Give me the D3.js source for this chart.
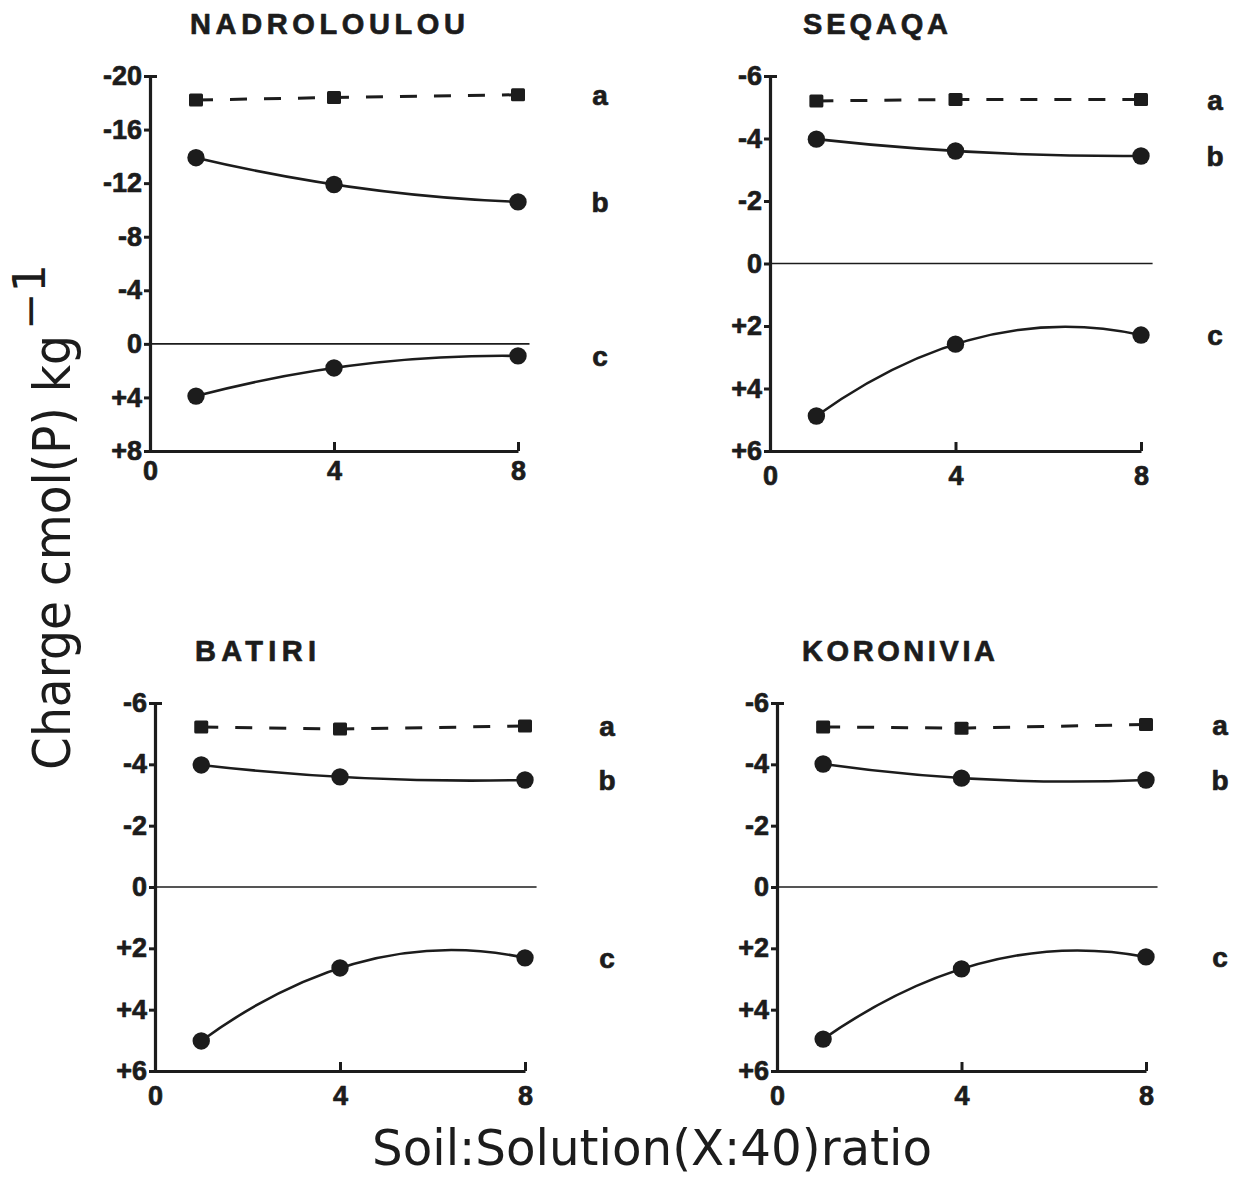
<!DOCTYPE html>
<html>
<head>
<meta charset="utf-8">
<script src="https://cdn.jsdelivr.net/npm/d3@7"></script>
<style>
  html, body { margin: 0; padding: 0; background: #ffffff; }
  svg { display: block; }
</style>
</head>
<body>
<svg id="chart" width="1245" height="1179"></svg>
<script>
// ---- data ----------------------------------------------------------------
const ratioValues = [1, 4, 8];                       // soil : solution (X:40)
const panelTitles = ["NADROLOULOU", "SEQAQA", "BATIRI", "KORONIVIA"];
const seriesNames = ["a", "b", "c"];
const yDomains = [[-20, 8], [-6, 6], [-6, 6], [-6, 6]];
const yTickValues = [
  [-20, -16, -12, -8, -4, 0, 4, 8],
  [-6, -4, -2, 0, 2, 4, 6],
  [-6, -4, -2, 0, 2, 4, 6],
  [-6, -4, -2, 0, 2, 4, 6]
];
const xTickValues = [0, 4, 8];
// charge, cmol(P) kg-1 (negative plotted upward)
const chargeA = [
  [-18.2, -18.4, -18.6],
  [-5.2, -5.25, -5.25],
  [-5.22, -5.15, -5.25],
  [-5.22, -5.18, -5.3]
];
const chargeB = [
  [-13.9, -11.9, -10.6],
  [-3.98, -3.6, -3.44],
  [-3.98, -3.59, -3.49],
  [-4.01, -3.55, -3.49]
];
const chargeC = [
  [3.9, 1.8, 0.9],
  [4.88, 2.58, 2.29],
  [5.02, 2.64, 2.31],
  [4.96, 2.67, 2.28]
];

// ---- layout --------------------------------------------------------------
const layout = [
  { left: 150, right: 518, top: 76, bottom: 451, titleX: 190, titleY: 34, titleW: 275, xPad: 10 },
  { left: 770, right: 1141, top: 76, bottom: 451, titleX: 803, titleY: 34, titleW: 145, xPad: 15 },
  { left: 155, right: 525, top: 703, bottom: 1071, titleX: 195, titleY: 661, titleW: 121, xPad: 15 },
  { left: 777, right: 1146, top: 703, bottom: 1071, titleX: 802, titleY: 661, titleW: 193, xPad: 15 }
];
const ink = "#1c1c1c";
const boldFont = "'Liberation Sans', Arial, Helvetica, sans-serif";
const labelFont = "'DejaVu Sans Condensed', 'DejaVu Sans', sans-serif";

// Smooth curve through three points: the parabola through them, drawn as one
// quadratic Bezier (falls back to straight segments otherwise).
function curveParabola(context) {
  let pts = [];
  return {
    areaStart() {}, areaEnd() {},
    lineStart() { pts = []; },
    point(x, y) { pts.push([+x, +y]); },
    lineEnd() {
      if (pts.length === 3) {
        const [[x0, y0], [x1, y1], [x2, y2]] = pts;
        const d01 = (y1 - y0) / (x1 - x0);
        const d12 = (y2 - y1) / (x2 - x1);
        const a = (d12 - d01) / (x2 - x0);
        const slope0 = d01 + a * (x0 - x1);
        const cx = (x0 + x2) / 2;
        const cy = y0 + slope0 * (cx - x0);
        context.moveTo(x0, y0);
        context.quadraticCurveTo(cx, cy, x2, y2);
      } else {
        pts.forEach((p, i) => i ? context.lineTo(p[0], p[1]) : context.moveTo(p[0], p[1]));
      }
    }
  };
}

const fmtCharge = d => d > 0 ? "+" + d : (d < 0 ? "-" + Math.abs(d) : "0");

// heavy bold text used for ticks, titles and series letters
function heavy(sel, size) {
  sel.attr("font-family", boldFont).attr("font-weight", "bold")
    .attr("font-size", size).attr("fill", ink)
    .attr("stroke", ink).attr("stroke-width", 0.7).attr("stroke-linejoin", "round");
}

const svg = d3.select("#chart");

panelTitles.forEach((title, i) => {
  const L = layout[i];
  const x = d3.scaleLinear().domain([0, 8]).range([L.left, L.right]);
  const y = d3.scaleLinear().domain(yDomains[i]).range([L.top, L.bottom]);
  const g = svg.append("g").attr("class", "panel");

  // panel title
  g.append("text")
    .attr("x", L.titleX).attr("y", L.titleY)
    .attr("textLength", L.titleW).attr("lengthAdjust", "spacing")
    .call(heavy, 29)
    .text(title);

  // zero reference line
  g.append("line")
    .attr("x1", x(0)).attr("x2", x(8.25))
    .attr("y1", y(0)).attr("y2", y(0))
    .attr("stroke", ink).attr("stroke-width", 1.6);

  // y axis
  const yAxis = d3.axisLeft(y).tickValues(yTickValues[i]).tickFormat(fmtCharge)
    .tickSizeInner(6).tickSizeOuter(-7).tickPadding(2);
  const ya = g.append("g").attr("transform", `translate(${L.left},0)`).call(yAxis);
  ya.select(".domain").attr("stroke", ink).attr("stroke-width", 3.2);
  ya.selectAll(".tick line").attr("stroke", ink).attr("stroke-width", 3);
  ya.selectAll(".tick text").call(heavy, 27);

  // x axis
  const xAxis = d3.axisBottom(x).tickValues(xTickValues).tickFormat(d3.format("d"))
    .tickSizeInner(-9).tickSizeOuter(0).tickPadding(L.xPad);
  const xa = g.append("g").attr("transform", `translate(0,${L.bottom})`).call(xAxis);
  xa.select(".domain").attr("stroke", ink).attr("stroke-width", 3.2);
  xa.selectAll(".tick line").attr("stroke", ink).attr("stroke-width", 3);
  xa.selectAll(".tick text").call(heavy, 27);

  const seriesSets = [chargeA[i], chargeB[i], chargeC[i]];
  const pointsOf = vals => vals.map((v, k) => [ratioValues[k], v]);

  // series a: dashed straight segments with square markers
  const straight = d3.line().x(d => x(d[0])).y(d => y(d[1]));
  g.append("path")
    .attr("d", straight(pointsOf(seriesSets[0])))
    .attr("fill", "none").attr("stroke", ink).attr("stroke-width", 3)
    .attr("stroke-dasharray", "17 17");
  g.selectAll("rect.sq").data(pointsOf(seriesSets[0])).join("rect")
    .attr("class", "sq")
    .attr("x", d => x(d[0]) - 7).attr("y", d => y(d[1]) - 6.5)
    .attr("width", 14).attr("height", 13).attr("rx", 1.5)
    .attr("fill", ink);

  // series b and c: smooth curves with round markers
  const smooth = d3.line().x(d => x(d[0])).y(d => y(d[1])).curve(curveParabola);
  [1, 2].forEach(s => {
    g.append("path")
      .attr("d", smooth(pointsOf(seriesSets[s])))
      .attr("fill", "none").attr("stroke", ink).attr("stroke-width", 2.6);
    g.selectAll(`circle.s${s}`).data(pointsOf(seriesSets[s])).join("circle")
      .attr("class", `s${s}`)
      .attr("cx", d => x(d[0])).attr("cy", d => y(d[1])).attr("r", 8.7)
      .attr("fill", ink);
  });

  // series letters at the right
  seriesNames.forEach((name, s) => {
    const last = seriesSets[s][seriesSets[s].length - 1];
    g.append("text")
      .attr("x", x(8) + (i % 2 === 0 ? 82 : 74))
      .attr("y", y(last))
      .attr("dy", "0.36em")
      .attr("text-anchor", "middle")
      .call(heavy, 28)
      .text(name);
  });
});

// shared axis titles
svg.append("text")
  .attr("transform", "translate(70,770) rotate(-90)")
  .attr("textLength", 435).attr("lengthAdjust", "spacingAndGlyphs")
  .attr("font-family", labelFont).attr("font-stretch", "condensed")
  .attr("font-size", 52).attr("fill", ink)
  .text("Charge cmol(P) kg");
svg.append("text")
  .attr("transform", "translate(45,330) rotate(-90)")
  .attr("textLength", 66).attr("lengthAdjust", "spacingAndGlyphs")
  .attr("font-family", labelFont).attr("font-stretch", "condensed")
  .attr("font-size", 44).attr("fill", ink)
  .text("\u22121");

svg.append("text")
  .attr("x", 372).attr("y", 1165)
  .attr("textLength", 560).attr("lengthAdjust", "spacingAndGlyphs")
  .attr("font-family", labelFont).attr("font-stretch", "condensed")
  .attr("font-size", 50).attr("fill", ink)
  .text("Soil:Solution(X:40)ratio");
</script>
</body>
</html>
